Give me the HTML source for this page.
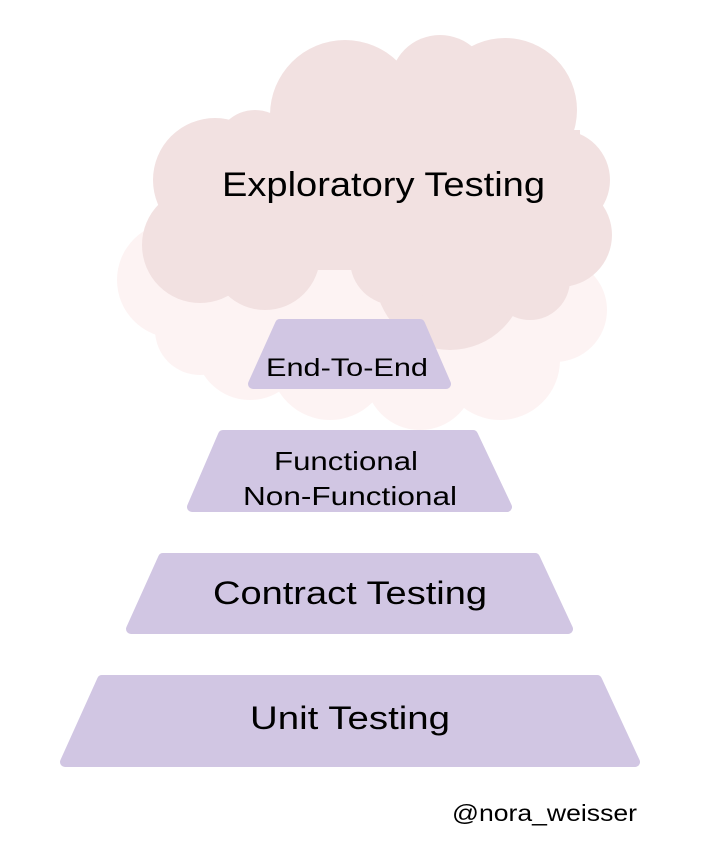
<!DOCTYPE html>
<html><head><meta charset="utf-8"><style>
html,body{margin:0;padding:0;background:#fff;}
svg{display:block;}
text{font-family:"Comic Sans MS","Liberation Sans",sans-serif;fill:#000;}
</style></head><body>
<svg width="707" height="850" viewBox="0 0 707 850" xmlns="http://www.w3.org/2000/svg">
<g fill="#fdf3f3">
<circle cx="175" cy="280" r="58"/><circle cx="200" cy="330" r="45"/><circle cx="250" cy="345" r="55"/>
<circle cx="330" cy="360" r="60"/><circle cx="420" cy="375" r="55"/><circle cx="500" cy="360" r="60"/>
<circle cx="555" cy="310" r="52"/><rect x="180" y="260" width="380" height="100"/>
</g>
<g fill="#f2e1e1">
<circle cx="345" cy="115" r="75"/><circle cx="440" cy="85" r="50"/><circle cx="505" cy="110" r="72"/>
<circle cx="215" cy="180" r="62"/><circle cx="255" cy="150" r="40"/><circle cx="560" cy="180" r="50"/>
<circle cx="560" cy="235" r="52"/><circle cx="200" cy="245" r="58"/><circle cx="265" cy="255" r="55"/>
<circle cx="450" cy="275" r="75"/><circle cx="395" cy="260" r="45"/><circle cx="530" cy="280" r="40"/>
<rect x="200" y="130" width="380" height="140"/>
</g>
<g fill="#d1c6e3" stroke="#d1c6e3" stroke-width="10" stroke-linejoin="round">
<polygon points="280,324 420,324 446,384 253,384"/>
<polygon points="223,435 473,435 507,507 192,507"/>
<polygon points="163,558 535,558 568,629 131,629"/>
<polygon points="102,680 597,680 635,762 65,762"/>
</g>
<text x="222" y="196" font-size="34" textLength="323" lengthAdjust="spacingAndGlyphs">Exploratory Testing</text>
<text x="266" y="376" font-size="25" textLength="162" lengthAdjust="spacingAndGlyphs">End-To-End</text>
<text x="274" y="470" font-size="26" textLength="144" lengthAdjust="spacingAndGlyphs">Functional</text>
<text x="243" y="505" font-size="26" textLength="214" lengthAdjust="spacingAndGlyphs">Non-Functional</text>
<text x="213" y="604" font-size="32" textLength="274" lengthAdjust="spacingAndGlyphs">Contract Testing</text>
<text x="250" y="729" font-size="32" textLength="200" lengthAdjust="spacingAndGlyphs">Unit Testing</text>
<text x="452" y="821" font-size="23" textLength="185" lengthAdjust="spacingAndGlyphs">@nora_weisser</text>
</svg>
</body></html>
